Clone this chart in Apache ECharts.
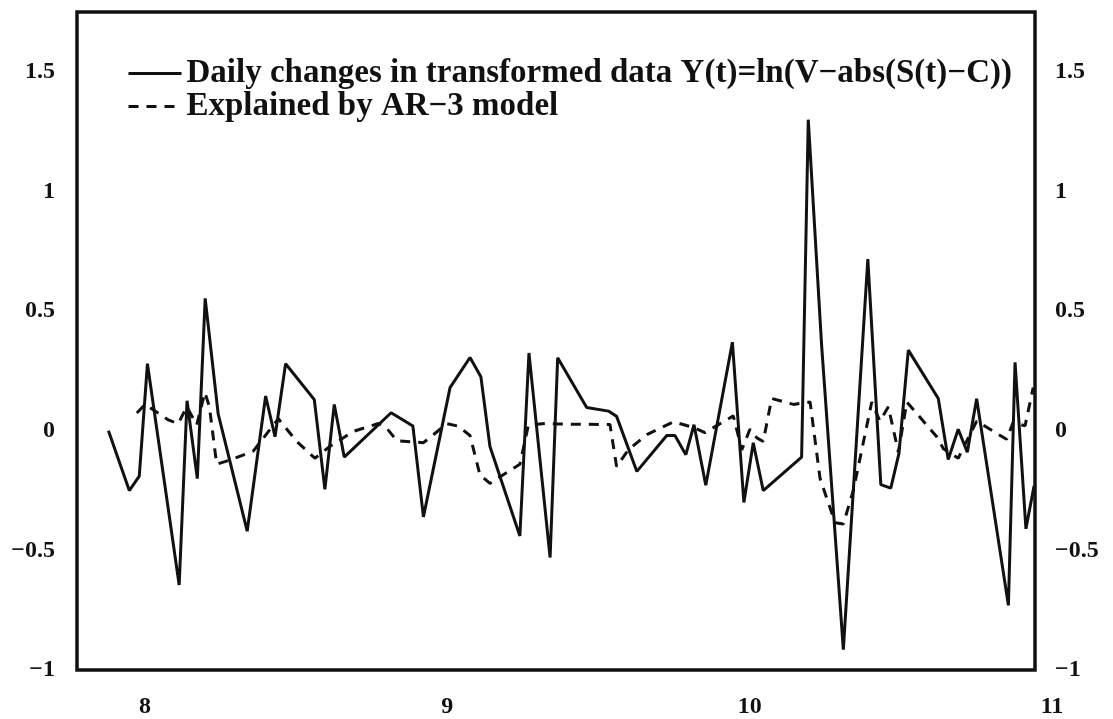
<!DOCTYPE html>
<html>
<head>
<meta charset="utf-8">
<title>Daily changes vs AR-3</title>
<script src="https://cdn.jsdelivr.net/npm/echarts@6/dist/echarts.min.js"></script>
<style>
  html, body { margin: 0; padding: 0; background: #fff; }
  #chart { width: 1113px; height: 719px; }
</style>
</head>
<body>
<div id="chart"></div>
<script>
// x positions (time) and values
var dailyX = [7.879, 7.948, 7.981, 8.008, 8.113, 8.139, 8.173, 8.199, 8.242, 8.338,
    8.399, 8.430, 8.465, 8.560, 8.595, 8.626, 8.659, 8.814, 8.886, 8.921,
    9.009, 9.075, 9.111, 9.141, 9.240, 9.270, 9.340, 9.365, 9.461, 9.533,
    9.560, 9.627, 9.726, 9.753, 9.789, 9.816, 9.855, 9.943, 9.981, 10.012,
    10.045, 10.172, 10.194, 10.238, 10.310, 10.391, 10.434, 10.467, 10.494, 10.525,
    10.624, 10.657, 10.690, 10.720, 10.751, 10.856, 10.878, 10.914, 10.941];
var dailyY = [0.0, -0.25, -0.19, 0.28, -0.645, 0.125, -0.20, 0.553, 0.07, -0.42,
    0.145, -0.025, 0.28, 0.13, -0.245, 0.11, -0.11, 0.075, 0.02, -0.36,
    0.18, 0.306, 0.226, -0.066, -0.44, 0.325, -0.53, 0.305, 0.097, 0.082,
    0.06, -0.17, -0.02, -0.02, -0.10, 0.025, -0.228, 0.37, -0.30, -0.05,
    -0.25, -0.11, 1.30, 0.36, -0.915, 0.717, -0.225, -0.24, -0.095, 0.337,
    0.135, -0.12, 0.006, -0.09, 0.134, -0.73, 0.286, -0.41, -0.23];

var arX = [7.973, 8.000, 8.077, 8.110, 8.138, 8.171, 8.198, 8.213, 8.237, 8.287,
    8.358, 8.441, 8.502, 8.562, 8.612, 8.689, 8.772, 8.800, 8.833, 8.921,
    8.970, 8.998, 9.036, 9.075, 9.108, 9.141, 9.240, 9.268, 9.323, 9.362,
    9.538, 9.560, 9.599, 9.660, 9.748, 9.814, 9.852, 9.946, 9.974, 10.001,
    10.024, 10.045, 10.073, 10.145, 10.200, 10.233, 10.283, 10.310, 10.343, 10.404,
    10.431, 10.459, 10.492, 10.520, 10.619, 10.641, 10.690, 10.751, 10.850, 10.872,
    10.911, 10.938];
var arY = [0.074, 0.11, 0.045, 0.03, 0.10, 0.025, 0.16, 0.10, -0.14, -0.12,
    -0.085, 0.05, -0.045, -0.115, -0.065, -0.003, 0.03, 0.01, -0.042, -0.05,
    0.0, 0.03, 0.019, -0.02, -0.185, -0.22, -0.14, 0.023, 0.03, 0.028,
    0.026, -0.15, -0.08, -0.016, 0.037, 0.014, -0.008, 0.062, -0.08, 0.006,
    -0.03, -0.045, 0.135, 0.11, 0.12, -0.2, -0.385, -0.39, -0.25, 0.12,
    0.04, 0.10, -0.09, 0.12, -0.025, -0.075, -0.115, 0.04, -0.036, 0.036,
    0.02, 0.18];

var xTicks = [8, 9, 10, 11];
var yTicks = [-1, -0.5, 0, 0.5, 1, 1.5];

var seriesNames = [
    'Daily changes in transformed data Y(t)=ln(V\u2212abs(S(t)\u2212C))',
    'Explained by AR\u22123 model'
];

function pairs(xs, ys) {
    return xs.map(function (x, i) { return [x, ys[i]]; });
}

function fmt(v) {
    return String(v).replace('-', '\u2212');
}

var font = '"Liberation Serif", "Times New Roman", serif';

var chart = echarts.init(document.getElementById('chart'));
var option = {
    backgroundColor: '#fff',
    animation: false,
    textStyle: { fontFamily: font },
    grid: [
        { left: 77, right: 78, top: 12, bottom: 49, show: true,
          borderColor: '#111', borderWidth: 3.5, backgroundColor: 'transparent' },
        { left: 77, width: 975, top: 12, bottom: 49, show: false }
    ],
    legend: {
        orient: 'vertical',
        left: 122,
        top: 52,
        itemWidth: 53,
        itemHeight: 14,
        itemGap: 0,
        data: seriesNames,
        itemStyle: { opacity: 0 },
        lineStyle: { width: 3 },
        textStyle: {
            fontFamily: font, fontSize: 33, fontWeight: 'bold',
            color: '#111', lineHeight: 28
        }
    },
    xAxis: [
        { type: 'value', gridIndex: 0, min: 7.775, max: 10.944,
          axisLine: { show: false }, axisTick: { show: false },
          axisLabel: { show: false }, splitLine: { show: false } },
        { type: 'value', gridIndex: 1, min: 7.775, max: 11,
          axisLine: { show: false }, axisTick: { show: false },
          splitLine: { show: false },
          axisLabel: {
              customValues: xTicks, margin: 27,
              fontFamily: font, fontSize: 24, fontWeight: 'bold', color: '#111'
          } }
    ],
    yAxis: [
        { type: 'value', gridIndex: 0, position: 'left', min: -1, max: 1.75,
          axisLine: { show: false }, axisTick: { show: false },
          splitLine: { show: false },
          axisLabel: {
              customValues: yTicks, margin: 22, formatter: fmt,
              fontFamily: font, fontSize: 24, fontWeight: 'bold', color: '#111'
          } },
        { type: 'value', gridIndex: 0, position: 'right', min: -1, max: 1.75,
          axisLine: { show: false }, axisTick: { show: false },
          splitLine: { show: false },
          axisLabel: {
              customValues: yTicks, margin: 20, formatter: fmt,
              fontFamily: font, fontSize: 24, fontWeight: 'bold', color: '#111'
          } },
        { type: 'value', gridIndex: 1, min: -1, max: 1.75, show: false }
    ],
    series: [
        {
            name: seriesNames[0],
            type: 'line',
            xAxisIndex: 0, yAxisIndex: 0,
            symbol: 'none',
            lineStyle: { color: '#111', width: 3 },
            itemStyle: { color: '#111' },
            data: pairs(dailyX, dailyY)
        },
        {
            name: seriesNames[1],
            type: 'line',
            xAxisIndex: 0, yAxisIndex: 0,
            symbol: 'none',
            lineStyle: { color: '#111', width: 3, type: [10, 8] },
            itemStyle: { color: '#111' },
            data: pairs(arX, arY)
        }
    ]
};
chart.setOption(option);
window.onresize = chart.resize;
</script>
</body>
</html>
